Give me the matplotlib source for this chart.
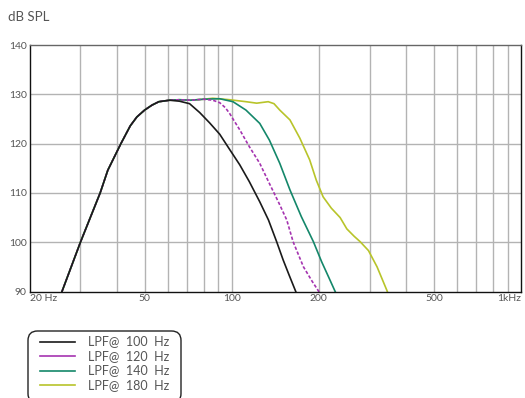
import matplotlib
matplotlib.use("Agg")
import matplotlib.pyplot as plt
from matplotlib.lines import Line2D
from matplotlib.patches import FancyBboxPatch

# ---- data ----
rise_f = [25.9, 30, 35.1, 37.3, 41.4, 44.6, 47, 50, 53, 56, 61]
rise_db = [90, 100, 110, 114.6, 120, 123.6, 125.4, 126.8, 127.8, 128.5, 128.8]

lpf100_f = [66, 71.5, 77.5, 83.9, 90.9, 98.4, 106.6, 115, 125, 134, 143, 150.6, 158, 167, 172]
lpf100_db = [128.6, 128.1, 126.3, 124.2, 121.9, 118.8, 115.7, 112.3, 108.2, 104.5, 100.1, 96.4, 93.3, 89.8, 88]

lpf120_f = [66, 72, 80, 86, 90.9, 95, 98.4, 102, 106.6, 115, 125, 135, 146, 155, 163, 177, 190, 199, 205]
lpf120_db = [128.9, 128.8, 129.0, 128.8, 128.3, 127.3, 126.1, 124.6, 122.8, 119.4, 116.0, 111.9, 107.8, 104.5, 100.1, 95.0, 92.0, 90.2, 89]

lpf140_f = [66, 72, 80, 90.9, 101, 112, 125, 135, 146.6, 159, 174, 191.6, 204.7, 216, 227, 232]
lpf140_db = [128.9, 128.8, 129.0, 129.1, 128.5, 126.8, 124.1, 120.7, 116.0, 110.6, 105.2, 100.1, 96.0, 93.0, 90.2, 89]

lpf180_f = [66, 72, 80, 86, 98.4, 112, 122, 133.7, 140, 146.6, 159, 172, 186, 196, 207, 221, 237, 250, 265, 278, 297, 318, 344, 350]
lpf180_db = [128.9, 128.8, 129.0, 129.2, 128.9, 128.5, 128.2, 128.5, 128.1, 126.8, 124.8, 121.1, 116.7, 112.6, 109.2, 106.9, 105.0, 102.7, 101.2, 100.1, 98.3, 95.0, 90.2, 89]

labels = ["LPF@  100  Hz", "LPF@  120  Hz", "LPF@  140  Hz", "LPF@  180  Hz"]
colors = ["#1a1a1a", "#a534b0", "#14876a", "#b8c42a"]

xticks = [20, 50, 100, 200, 500, 1000]
xticklabels = ["20 Hz", "50", "100", "200", "500", "1kHz"]
yticks = [90, 100, 110, 120, 130, 140]

W, H = 525, 398
fig = plt.figure(figsize=(W / 100, H / 100), dpi=100)
ax = fig.add_axes([29.5 / W, 1 - 291.5 / H, (521 - 29.5) / W, (291.5 - 45) / H])

ax.set_xscale("log")
ax.set_xlim(20, 1000)
ax.set_ylim(90, 140)

# grid
grid_f = [30, 40, 50, 60, 70, 80, 90, 100, 200, 300, 400, 500, 600, 700, 800, 900]
for g in grid_f:
    ax.axvline(g, color="#b3b3b3", lw=1.0, zorder=0)
for g in [100, 110, 120, 130]:
    ax.axhline(g, color="#b3b3b3", lw=1.0, zorder=0)

series = [
    (lpf180_f, lpf180_db, colors[3], "-"),
    (lpf140_f, lpf140_db, colors[2], "-"),
    (lpf120_f, lpf120_db, colors[1], (0, (2, 1.2))),
    (lpf100_f, lpf100_db, colors[0], "-"),
]
for f, db, c, ls in series:
    ax.plot(rise_f + f, rise_db + db, color=c, lw=1.2, ls=ls, clip_on=True)

for side in ["left", "bottom", "right"]:
    ax.spines[side].set_color("#111111")
    ax.spines[side].set_linewidth(1.0)
ax.spines["top"].set_color("#666666")
ax.spines["top"].set_linewidth(1.0)

ax.set_yticks(yticks)
ax.set_yticklabels([str(v) for v in yticks])
ax.set_xticks(xticks)
ax.set_xticklabels(xticklabels)
ax.minorticks_off()
ax.tick_params(length=0, labelsize=7.5, labelcolor="#555555", pad=2)
for lab in ax.get_yticklabels():
    lab.set_fontfamily("Lato")
for i, lab in enumerate(ax.get_xticklabels()):
    lab.set_fontfamily("Lato")
    if i == 0:
        lab.set_horizontalalignment("left")
    elif i == len(xticklabels) - 1:
        lab.set_horizontalalignment("right")

fig.text(8 / W, 1 - 17 / H, "dB SPL", fontsize=9.5, color="#555555", family="Lato",
         ha="left", va="center")

# legend drawn manually (box partly cut by the figure edge, as in the reference)
def fx(px):
    return px / W

def fy(py):
    return 1 - py / H

box = FancyBboxPatch((fx(28), fy(403)), fx(181) - fx(28), fy(331) - fy(403),
                     boxstyle="round,pad=0,rounding_size=0.018",
                     transform=fig.transFigure, facecolor="white", edgecolor="#222222",
                     lw=1.0, mutation_aspect=W / H)
fig.patches.append(box)
rows = [341.5, 356, 370.5, 385]
for r, c, lab in zip(rows, colors, labels):
    fig.add_artist(Line2D([fx(40), fx(75)], [fy(r), fy(r)], color=c, lw=1.2,
                          transform=fig.transFigure))
    fig.text(fx(88), fy(r), lab, fontsize=9, color="#555555", family="Lato",
             ha="left", va="center")

fig.savefig("out.png", dpi=100)
